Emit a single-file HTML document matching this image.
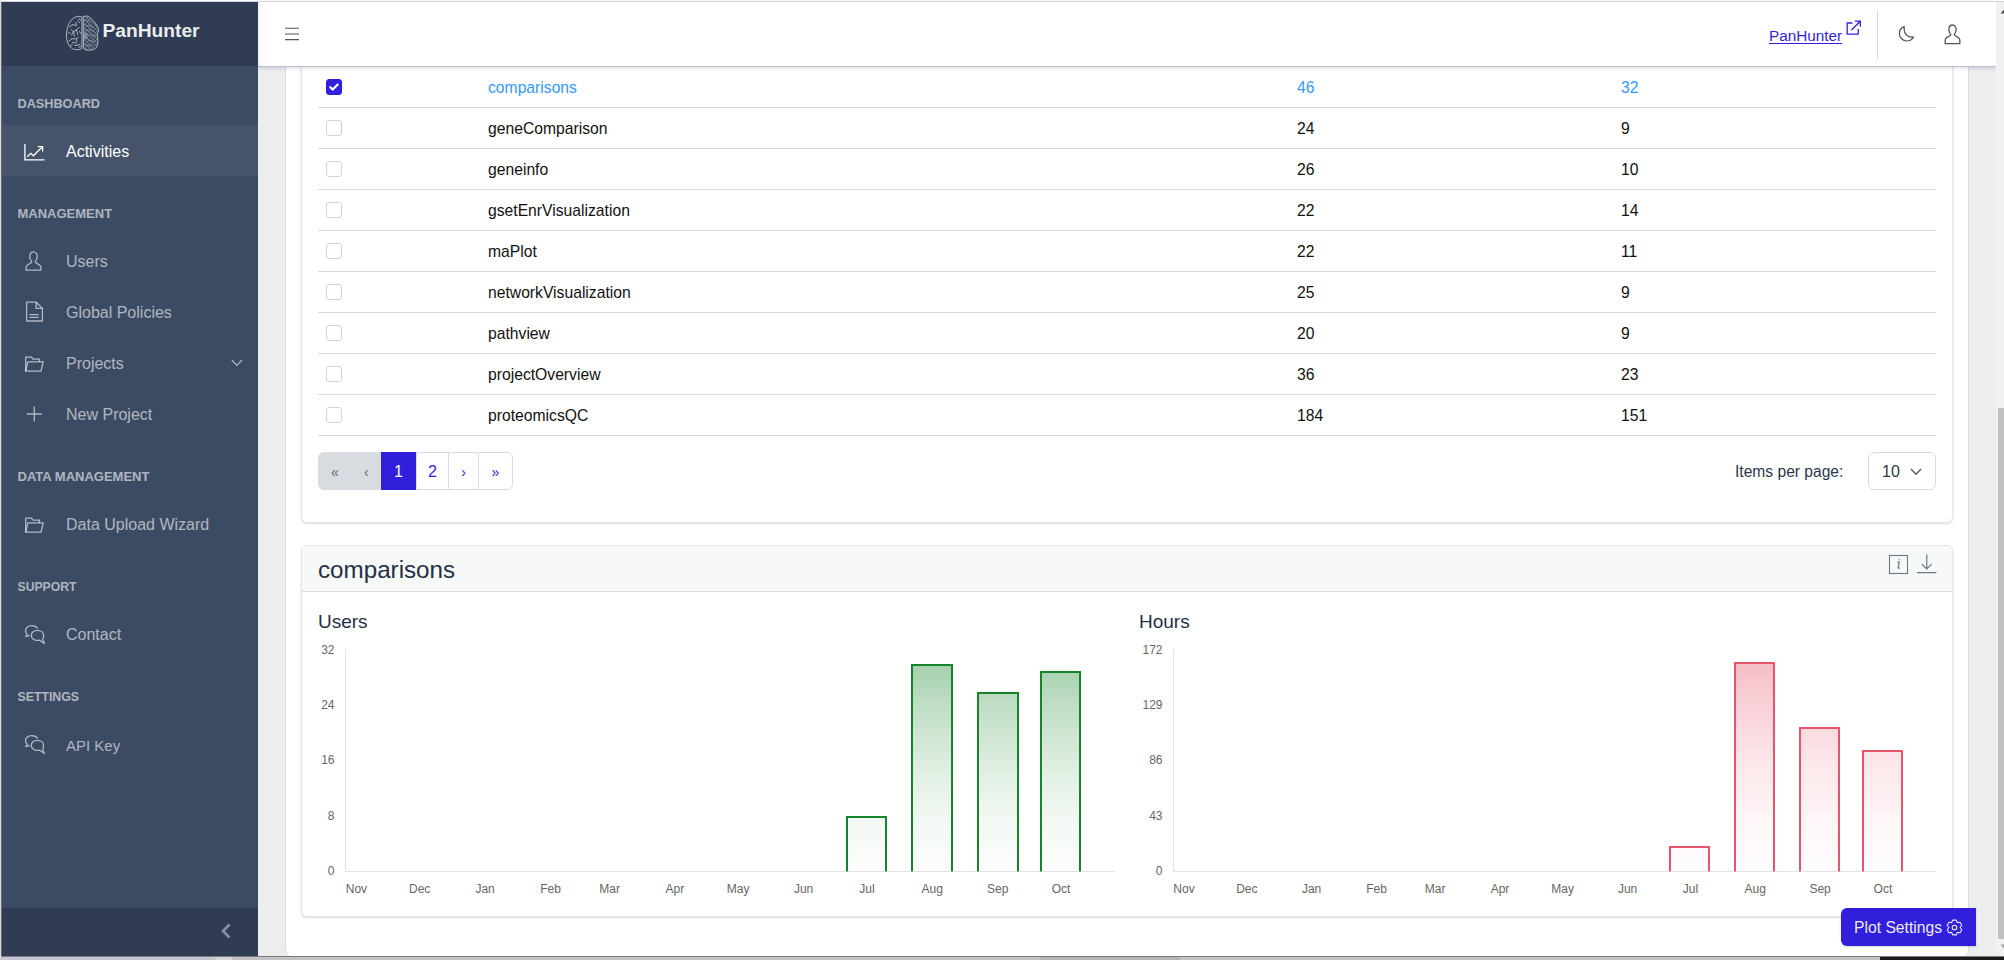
<!DOCTYPE html>
<html><head><meta charset="utf-8">
<style>
*{box-sizing:border-box;margin:0;padding:0}
html,body{width:2004px;height:960px;overflow:hidden;background:#fff;font-family:"Liberation Sans",sans-serif;}
body{position:relative}
.abs{position:absolute}
/* window frame artifacts */
#frameL1{left:0;top:0;width:1px;height:956px;background:#d9d9e6}
#frameL2{left:1px;top:2px;width:1px;height:954px;background:#6c6c70}
#frameT{left:1px;top:1px;width:2003px;height:1px;background:#d4d4d8}
#bottom{left:0;top:957px;width:2004px;height:3px;background:#c2c2c2}
#bottomR{left:1880px;top:956px;width:124px;height:4px;background:#1b1b1b}
/* sidebar */
#sidebar{left:2px;top:2px;width:256px;height:954px;background:#3c4b64;color:rgba(255,255,255,.6)}
#brand{left:0;top:0;width:256px;height:64px;background:#303c54}
#brandtxt{left:100.5px;top:18.3px;font-size:19.2px;font-weight:700;color:#ebedef;letter-spacing:0}
.navtitle{position:absolute;left:15.5px;font-size:13px;font-weight:700;color:rgba(255,255,255,.6);text-transform:uppercase;line-height:20px}
.navitem{position:absolute;left:0;width:256px;height:51px;color:rgba(255,255,255,.6);font-size:16px}
.navitem.active{background:rgba(255,255,255,.05);color:#fff}
.navitem .lbl{position:absolute;left:64px;top:16px;line-height:22px;white-space:nowrap}
.navitem svg{position:absolute;left:22px;top:15px}
#toggler{left:0;top:906px;width:256px;height:48px;background:#303c54}
/* body */
#bodybg{left:258px;top:2px;width:1738px;height:954px;background:#ebedef}
#container{left:285px;top:2px;width:1684px;height:954px;background:#fff;border-left:1px solid #d8dbe0;border-right:1px solid #d8dbe0;border-radius:0 0 6px 6px}
#header{left:258px;top:2px;width:1738px;height:65px;background:#fff;border-bottom:1px solid #b9c0ca;box-shadow:0 1px 4px rgba(60,75,100,.22)}
#hlink{left:1511px;top:25px;font-size:15.3px;color:#321fdb;text-decoration:underline;text-underline-offset:2px;line-height:18px}
#pag{left:318px;top:452px;width:195px;height:38px}
.pg{position:absolute;top:0;height:38px;border:1px solid #d8dbe0;margin-left:0;background:#fff;color:#321fdb;font-size:16px;line-height:38px;text-align:center}
.pg.sm{font-size:14px}
.pg.dis{background:#d8dbe0;color:#5f6b7c;font-size:14px}
.pg.act{background:#321fdb;border-color:#321fdb;color:#fff}
#ipp{left:1735px;top:463px;font-size:15.6px;color:#2c384a;line-height:18px}
#sel{left:1868px;top:452px;width:68px;height:38px;border:1px solid #d8dbe0;border-radius:6px;font-size:16px;color:#2c384a;line-height:18px}
#c2head{left:302px;top:546px;width:1650px;height:46px;background:#f7f9f8;border-bottom:1px solid #d8dbe0;border-radius:6px 6px 0 0}
#c2title{left:16px;top:11px;font-size:24.2px;color:#243044;line-height:26px;white-space:nowrap}
.ctitle{top:611px;font-size:19px;color:#243044;line-height:22px}
#plotbtn{left:1841px;top:908px;width:135px;height:38px;background:#321fdb;color:#ebeafc;border-radius:6px 0 0 6px;font-size:15.7px;line-height:40px;padding-left:13px;white-space:nowrap;box-shadow:0 1px 2px rgba(0,0,0,.15)}
/* scrollbar */
#sb{left:1996px;top:2px;width:8px;height:954px;background:#f1f1f1}
#sbthumb{left:1998px;top:408px;width:6px;height:531px;background:#c1c1c1}
/* cards */
.card{position:absolute;background:#fff;border:1px solid #e4e7ea;border-radius:6px;box-shadow:0 1px 2px rgba(60,75,100,.2)}
#card1{left:301px;top:10px;width:1652px;height:513px}
#card2{left:301px;top:545px;width:1652px;height:372px}
.row{position:absolute;left:318px;width:1618px;height:41px;border-bottom:1px solid #d8dbe0;font-size:15.7px;color:#111}
.row .cb{position:absolute;left:8px;top:12px;width:16px;height:16px;border:1px solid #d0d4da;border-radius:3px;background:#fff}
.row .nm{position:absolute;left:170px;top:12px;line-height:18px;white-space:nowrap}
.row .n1{position:absolute;left:979px;top:12px;line-height:18px}
.row .n2{position:absolute;left:1303px;top:12px;line-height:18px}
.row.sel{color:#3399ff}
.row.sel .cb{background:#321fdb;border-color:#321fdb}
</style></head>
<body>
<div class="abs" id="bodybg"></div>
<div class="abs" id="container"></div>
<div class="card" id="card1"></div>
<div class="card" id="card2"></div>
<div class="row sel" style="top:67px"><div class="cb"><svg width="16" height="16" viewBox="0 0 16 16" style="position:absolute;left:-1px;top:-1px" fill="none" stroke="#fff" stroke-width="2.2" stroke-linecap="round" stroke-linejoin="round"><path d="M4.3 8.2 L6.8 10.6 L11.7 5.6"/></svg></div><span class="nm">comparisons</span><span class="n1">46</span><span class="n2">32</span></div>
<div class="row" style="top:108px"><div class="cb"></div><span class="nm">geneComparison</span><span class="n1">24</span><span class="n2">9</span></div>
<div class="row" style="top:149px"><div class="cb"></div><span class="nm">geneinfo</span><span class="n1">26</span><span class="n2">10</span></div>
<div class="row" style="top:190px"><div class="cb"></div><span class="nm">gsetEnrVisualization</span><span class="n1">22</span><span class="n2">14</span></div>
<div class="row" style="top:231px"><div class="cb"></div><span class="nm">maPlot</span><span class="n1">22</span><span class="n2">11</span></div>
<div class="row" style="top:272px"><div class="cb"></div><span class="nm">networkVisualization</span><span class="n1">25</span><span class="n2">9</span></div>
<div class="row" style="top:313px"><div class="cb"></div><span class="nm">pathview</span><span class="n1">20</span><span class="n2">9</span></div>
<div class="row" style="top:354px"><div class="cb"></div><span class="nm">projectOverview</span><span class="n1">36</span><span class="n2">23</span></div>
<div class="row" style="top:395px"><div class="cb"></div><span class="nm">proteomicsQC</span><span class="n1">184</span><span class="n2">151</span></div>
<div class="abs" id="pag">
 <div class="pg dis" style="left:0;width:63px;border-radius:6px 0 0 6px"><span style="position:absolute;left:12px">&laquo;</span><span style="position:absolute;left:45px">&lsaquo;</span></div>
 <div class="pg act" style="left:63px;width:35px">1</div>
 <div class="pg" style="left:98px;width:33px">2</div>
 <div class="pg sm" style="left:130px;width:31px">&rsaquo;</div>
 <div class="pg sm" style="left:160px;width:35px;border-radius:0 6px 6px 0">&raquo;</div>
</div>
<span class="abs" id="ipp">Items per page:</span>
<div class="abs" id="sel"><span style="position:absolute;left:13px;top:10px">10</span><svg class="abs" style="left:41px;top:15px" width="12" height="8" viewBox="0 0 12 8" fill="none" stroke="#4f5d73" stroke-width="1.4"><path d="M1 1 L6 6.2 L11 1"/></svg></div>

<div class="abs" id="c2head"><span class="abs" id="c2title">comparisons</span>
 <svg class="abs" style="left:1585.5px;top:7.5px" width="21" height="21" viewBox="0 0 21 21" fill="none" stroke="#6b7785" stroke-width="1.1"><rect x="1.5" y="1.5" width="18" height="18"/><path d="M9.6 8.4 C10.3 7.6 11 7.5 11.2 8 L10.2 13.6 C10.1 14.3 10.6 14.6 11.8 13.7" stroke-width="1.2"/><circle cx="11.3" cy="5.6" r=".6" fill="#6b7785" stroke="none"/></svg>
 <svg class="abs" style="left:1613.5px;top:7.3px" width="21" height="21" viewBox="0 0 21 21" fill="none" stroke="#6b7785" stroke-width="1.2"><path d="M10.8 1.5 V16 M5.9 11.2 L10.8 16 L15.6 11.2 M1 19.7 H20.4"/></svg>
</div>
<span class="abs ctitle" style="left:318px">Users</span>
<span class="abs ctitle" style="left:1139px">Hours</span>
<svg class="abs" style="left:0;top:0" width="2004" height="960" font-family="Liberation Sans" font-size="12" fill="#666"><defs><linearGradient id="gg" gradientUnits="userSpaceOnUse" x1="0" y1="649" x2="0" y2="871"><stop offset="0" stop-color="rgb(19,130,37)" stop-opacity=".42"/><stop offset=".25" stop-color="rgb(19,130,37)" stop-opacity=".27"/><stop offset=".5" stop-color="rgb(19,130,37)" stop-opacity=".15"/><stop offset=".75" stop-color="rgb(19,130,37)" stop-opacity=".06"/><stop offset="1" stop-color="rgb(19,130,37)" stop-opacity=".01"/></linearGradient><linearGradient id="gr" gradientUnits="userSpaceOnUse" x1="0" y1="649" x2="0" y2="871"><stop offset="0" stop-color="rgb(232,84,108)" stop-opacity=".42"/><stop offset=".25" stop-color="rgb(232,84,108)" stop-opacity=".27"/><stop offset=".5" stop-color="rgb(232,84,108)" stop-opacity=".15"/><stop offset=".75" stop-color="rgb(232,84,108)" stop-opacity=".06"/><stop offset="1" stop-color="rgb(232,84,108)" stop-opacity=".01"/></linearGradient></defs><line x1="345.5" y1="649" x2="345.5" y2="871.5" stroke="#e3e3e3" stroke-width="1"/><line x1="345.0" y1="871.5" x2="1114.6" y2="871.5" stroke="#e3e3e3" stroke-width="1"/><text x="334.5" y="654.2" text-anchor="end">32</text><text x="334.5" y="709" text-anchor="end">24</text><text x="334.5" y="764" text-anchor="end">16</text><text x="334.5" y="820" text-anchor="end">8</text><text x="334.5" y="875" text-anchor="end">0</text><text x="356.4" y="893" text-anchor="middle">Nov</text><text x="419.7" y="893" text-anchor="middle">Dec</text><text x="485.1" y="893" text-anchor="middle">Jan</text><text x="550.5" y="893" text-anchor="middle">Feb</text><text x="609.6" y="893" text-anchor="middle">Mar</text><text x="674.9" y="893" text-anchor="middle">Apr</text><text x="738.2" y="893" text-anchor="middle">May</text><text x="803.6" y="893" text-anchor="middle">Jun</text><text x="866.9" y="893" text-anchor="middle">Jul</text><text x="932.3" y="893" text-anchor="middle">Aug</text><text x="997.7" y="893" text-anchor="middle">Sep</text><text x="1061.0" y="893" text-anchor="middle">Oct</text><path d="M847 871.5 V817 H886 V871.5" fill="url(#gg)" stroke="#16842a" stroke-width="2"/><path d="M912 871.5 V665 H952 V871.5" fill="url(#gg)" stroke="#16842a" stroke-width="2"/><path d="M978 871.5 V693 H1018 V871.5" fill="url(#gg)" stroke="#16842a" stroke-width="2"/><path d="M1041 871.5 V672 H1080 V871.5" fill="url(#gg)" stroke="#16842a" stroke-width="2"/><line x1="1173.5" y1="649" x2="1173.5" y2="871.5" stroke="#e3e3e3" stroke-width="1"/><line x1="1173.0" y1="871.5" x2="1935.7" y2="871.5" stroke="#e3e3e3" stroke-width="1"/><text x="1162.5" y="654.2" text-anchor="end">172</text><text x="1162.5" y="709" text-anchor="end">129</text><text x="1162.5" y="764" text-anchor="end">86</text><text x="1162.5" y="820" text-anchor="end">43</text><text x="1162.5" y="875" text-anchor="end">0</text><text x="1184.0" y="893" text-anchor="middle">Nov</text><text x="1246.8" y="893" text-anchor="middle">Dec</text><text x="1311.6" y="893" text-anchor="middle">Jan</text><text x="1376.5" y="893" text-anchor="middle">Feb</text><text x="1435.1" y="893" text-anchor="middle">Mar</text><text x="1500.0" y="893" text-anchor="middle">Apr</text><text x="1562.7" y="893" text-anchor="middle">May</text><text x="1627.6" y="893" text-anchor="middle">Jun</text><text x="1690.4" y="893" text-anchor="middle">Jul</text><text x="1755.3" y="893" text-anchor="middle">Aug</text><text x="1820.1" y="893" text-anchor="middle">Sep</text><text x="1882.9" y="893" text-anchor="middle">Oct</text><path d="M1670 871.5 V847 H1709 V871.5" fill="url(#gr)" stroke="#e8546c" stroke-width="2"/><path d="M1735 871.5 V663 H1774 V871.5" fill="url(#gr)" stroke="#e8546c" stroke-width="2"/><path d="M1800 871.5 V728 H1839 V871.5" fill="url(#gr)" stroke="#e8546c" stroke-width="2"/><path d="M1863 871.5 V751 H1902 V871.5" fill="url(#gr)" stroke="#e8546c" stroke-width="2"/></svg>
<div class="abs" id="plotbtn">Plot Settings <svg class="abs" style="left:105px;top:11px" width="17" height="17" viewBox="0 0 17 17" fill="none" stroke="#e6e6fa" stroke-width="1.1" stroke-linejoin="round"><path d="M6.79 1.09 L10.21 1.09 L11.30 3.65 L14.06 3.32 L15.77 6.28 L14.10 8.50 L15.77 10.72 L14.06 13.68 L11.30 13.35 L10.21 15.91 L6.79 15.91 L5.70 13.35 L2.94 13.68 L1.23 10.72 L2.90 8.50 L1.23 6.28 L2.94 3.32 L5.70 3.65 Z"/><circle cx="8.5" cy="8.5" r="2.3"/></svg></div>
<div class="abs" id="header">
  <div class="abs" style="left:0;top:0;width:6px;height:64px;background:linear-gradient(to right,rgba(0,0,40,.05),rgba(0,0,40,0))"></div>
  <svg class="abs" style="left:27px;top:24px" width="14" height="16" viewBox="0 0 14 16" fill="none" stroke="#4f5461" stroke-width="1.1"><path d="M0 2.3 H14 M0 8 H14 M0 13.6 H14"/></svg>
  <span class="abs" id="hlink">PanHunter</span>
  <svg class="abs" style="left:1588px;top:18px" width="16" height="16" viewBox="0 0 16 16" fill="none" stroke="#321fdb" stroke-width="1.3"><path d="M6.5 3 H1.2 V14.2 H12.2 V9"/><path d="M5.5 10 L14.2 1.3 M8.8 1.2 H14.3 V6.7"/></svg>
  <div class="abs" style="left:1619px;top:8px;width:1px;height:48px;background:#d8dbe0"></div>
  <svg class="abs" style="left:1640px;top:23px" width="18" height="18" viewBox="0 0 18 18" fill="none" stroke="#4f5461" stroke-width="1.2"><path d="M6.1 1.6 C3.3 2.7 1.4 5.4 1.4 8.5 C1.4 12.6 4.7 16 8.9 16 C11.7 16 14.2 14.4 15.5 12 C14.9 12.1 14.4 12.2 13.8 12.2 C9.6 12.2 6.2 8.8 6.2 4.6 C6.2 3.5 6.4 2.5 6.1 1.6 Z"/></svg>
  <svg class="abs" style="left:1686px;top:22px" width="17" height="21" viewBox="0 0 17 21" fill="none" stroke="#4f5461" stroke-width="1.3"><path d="M8.5 1 C6.3 1 4.9 2.9 4.9 5.6 C4.9 7.6 5.6 9.1 6.6 10.3 L6.6 11.2 L2.3 13.9 C1.5 14.5 1.2 15.3 1.2 16.3 L1.2 19.7 L15.8 19.7 L15.8 16.3 C15.8 15.3 15.5 14.5 14.7 13.9 L10.4 11.2 L10.4 10.3 C11.4 9.1 12.1 7.6 12.1 5.6 C12.1 2.9 10.7 1 8.5 1 Z"/></svg>
</div>
<div class="abs" id="sidebar">
  <div class="abs" id="brand"><span class="abs" id="brandtxt">PanHunter</span><svg class="abs" style="left:62px;top:11px" width="38" height="40" viewBox="64 13 38 40" fill="none" stroke="#cfd3dc" stroke-width=".8" stroke-linecap="round" stroke-linejoin="round">
<defs><clipPath id="rh"><path d="M83.6 16.4 C84.8 16 86 15.9 87.3 16.1 C88.6 16.6 89.9 17.4 91 18.4 C92.4 19.6 93.8 21 94.8 22.6 C95.7 23.5 96.4 24.5 96.9 25.5 C97.6 26.8 98.3 28.2 98.6 29.7 C98.7 30.4 98.5 31.1 98.2 31.75 C97.7 32.7 97.3 33.7 97.3 34.7 C97.5 36 97.8 37.4 97.75 38.8 C97.9 40.5 98 42.2 97.75 43.8 C97.5 45 97.1 46.2 96.5 47.2 C95.6 48.4 94.5 49.2 93.2 49.7 C91.3 50.3 89.3 50.4 87.3 50.1 C86.1 49.8 85 49.4 84 48.8 L83.6 48 Z"/></clipPath></defs>
<path d="M81.6 16.9 C80 15.9 76.5 16.2 74.4 17.6 C72.8 18.6 71.2 19.6 70.6 21.2 C69.6 22.3 68.6 23.4 68.6 24.9 C67.6 26.4 67.3 28 67.3 29.7 C66.6 31.4 66.4 33.2 66.5 35 C66.3 36.6 66.6 38.2 66.9 39.7 C67.3 41.4 67.8 43.2 68.6 44.7 C69.4 46 70.3 47.2 71.5 48 C72.8 49.1 74.2 49.6 75.7 49.7 C77.4 49.9 79.2 49.7 80.7 49.2 L81.6 48.6 Z"/>
<path d="M83.6 16.4 C84.8 16 86 15.9 87.3 16.1 C88.6 16.6 89.9 17.4 91 18.4 C92.4 19.6 93.8 21 94.8 22.6 C95.7 23.5 96.4 24.5 96.9 25.5 C97.6 26.8 98.3 28.2 98.6 29.7 C98.7 30.4 98.5 31.1 98.2 31.75 C97.7 32.7 97.3 33.7 97.3 34.7 C97.5 36 97.8 37.4 97.75 38.8 C97.9 40.5 98 42.2 97.75 43.8 C97.5 45 97.1 46.2 96.5 47.2 C95.6 48.4 94.5 49.2 93.2 49.7 C91.3 50.3 89.3 50.4 87.3 50.1 C86.1 49.8 85 49.4 84 48.8 L83.6 48 Z"/>
<path d="M72.3 24.7 L76.5 25.5 L75.7 22.6 M77.75 20.5 L79.4 23 M73.6 31.75 L71 29.25 M73.6 31.75 L76.5 29.7 L79.4 27.6 M73.6 31.75 L71.5 35 M73.6 31.75 L74.4 36.3 M76.5 29.7 L77.75 34.7 M71.9 38.8 L76.5 38.8 L78.5 37 M72.3 42.2 L76.5 43 M74.8 45.5 L79.8 44.7 M69.5 27 L72.3 24.7 M76.5 38.8 L76.8 41.5 M69 41 L71.9 38.8 M79.5 31.5 L80.8 33.5 M78.8 47.2 L80.6 46.6 M70 46 L72.3 44.5 M79 18.5 L80.5 20.5 M68.2 33 L70.2 32.8" stroke-width=".75"/>
<g clip-path="url(#rh)" stroke-width=".55" opacity=".7"><path d="M80 0 L100 17 M80 4 L100 21 M80 8 L100 25 M80 12 L100 29 M80 16 L100 33 M80 20 L100 37 M80 24 L100 41 M80 28 L100 45 M80 32 L100 49 M80 36 L100 53 M80 40 L100 57 M80 44 L100 61 M80 48 L100 65 M100 -0.5 L80 22 M100 3.5 L80 26 M100 7.5 L80 30 M100 11.5 L80 34 M100 15.5 L80 38 M100 19.5 L80 42 M100 23.5 L80 46 M100 27.5 L80 50 M100 31.5 L80 54 M100 35.5 L80 58 M100 39.5 L80 62 M100 43.5 L80 66 M100 47.5 L80 70 M100 51.5 L80 74"/><path d="M84.5 20 C86.5 21 88 19.5 90 21.5 M84.5 25 C87 26.5 89.5 24.5 92.5 27 M85 30 L88 31 L90 29.5 L94 31.5 M88 40 C90 41.5 92 40 95 42 M86 44.5 L89 46 L92 45 M89 34 L93 36 L96 35" stroke-width=".7"/></g>
<ellipse cx="85.5" cy="36" rx="2.2" ry="3.5" fill="#b8bdc8" stroke="none" opacity=".5"/>
</svg></div>
<div class="navtitle" style="font-size:12.7px;top:92px">Dashboard</div>
<div class="navitem active" style="top:123px"><span class="lbl">Activities</span><svg width="22" height="18" viewBox="0 0 22 18" style="left:22px;top:19px" fill="none" stroke="currentColor" stroke-width="1.3"><path d="M0.9 0 V15.9 H20.5"/><path d="M3.2 12.8 L6.8 9.3 L9.3 11.8 L18.4 2.8"/><path d="M13.8 2.6 H18.6 V7.4"/></svg></div>
<div class="navtitle" style="top:202px">Management</div>
<div class="navitem" style="top:233px"><span class="lbl">Users</span><svg width="17" height="21" viewBox="0 0 17 21" style="left:23px;top:16px" fill="none" stroke="currentColor" stroke-width="1.3"><path d="M8.5 0.8 C6.2 0.8 4.8 2.8 4.8 5.6 C4.8 7.8 5.6 9.4 6.6 10.6 L6.6 11.4 L2.2 14.2 C1.4 14.8 1.1 15.6 1.1 16.6 L1.1 19.2 L15.9 19.2 L15.9 16.6 C15.9 15.6 15.6 14.8 14.8 14.2 L10.4 11.4 L10.4 10.6 C11.4 9.4 12.2 7.8 12.2 5.6 C12.2 2.8 10.8 0.8 8.5 0.8 Z"/></svg></div>
<div class="navitem" style="top:284px"><span class="lbl">Global Policies</span><svg width="19" height="21" viewBox="0 0 19 21" style="left:23px;top:15px" fill="none" stroke="currentColor" stroke-width="1.3"><path d="M1.6 1.2 H11.2 L17.4 7.4 V20 H1.6 Z"/><path d="M11.2 1.2 V7.4 H17.4"/><path d="M4.4 13.7 H13.6 M4.4 16.4 H13.6"/></svg></div>
<div class="navitem" style="top:335px"><span class="lbl">Projects</span><svg width="21" height="17" viewBox="0 0 21 17" style="left:20.5px;top:18.5px" fill="none" stroke="currentColor" stroke-width="1.3"><path d="M2.7 15.2 V1.1 H8.6 L10 3.2 H16.4 V5.8"/><path d="M2.7 15.2 L4.8 5.8 H20.2 L18 15.2 Z"/></svg><svg width="12" height="8" viewBox="0 0 12 8" style="left:229px;top:22px" fill="none" stroke="currentColor" stroke-width="1.2"><path d="M0.8 1 L5.9 6.4 L11 1"/></svg></div>
<div class="navitem" style="top:386px"><span class="lbl">New Project</span><svg width="17" height="17" viewBox="0 0 17 17" style="left:23.5px;top:17.5px" fill="none" stroke="currentColor" stroke-width="1.3"><path d="M8.3 0.5 V15.5 M0.8 8 H15.8"/></svg></div>
<div class="navtitle" style="top:465px">Data Management</div>
<div class="navitem" style="top:496px"><span class="lbl">Data Upload Wizard</span><svg width="21" height="17" viewBox="0 0 21 17" style="left:20.5px;top:18.5px" fill="none" stroke="currentColor" stroke-width="1.3"><path d="M2.7 15.2 V1.1 H8.6 L10 3.2 H16.4 V5.8"/><path d="M2.7 15.2 L4.8 5.8 H20.2 L18 15.2 Z"/></svg></div>
<div class="navtitle" style="font-size:12.2px;top:575px">Support</div>
<div class="navitem" style="top:606px"><span class="lbl">Contact</span><svg width="22" height="21" viewBox="0 0 22 21" style="left:20.5px;top:16px" fill="none" stroke="currentColor" stroke-width="1.3"><path d="M14.6 4.5 C13.5 2.6 11.3 1.6 8.8 1.6 C5.1 1.6 2.5 3.9 2.5 6.8 C2.5 8.2 3.1 9.4 4.1 10.3 L2.8 12.4 C4.4 12.6 5.8 11.9 6.8 11.4"/><path d="M14.4 6.4 C10.9 6.4 8.3 8.6 8.3 11.4 C8.3 14.2 10.9 16.4 14.4 16.4 C15.1 16.4 15.8 16.3 16.4 16.1 L21.3 19.2 L19.5 15.4 C20.3 14.4 20.6 13 20.6 11.4 C20.6 8.6 18 6.4 14.4 6.4 Z"/></svg></div>
<div class="navtitle" style="font-size:12.3px;top:685px">Settings</div>
<div class="navitem" style="top:716px"><span class="lbl" style="font-size:15px;top:16.5px">API Key</span><svg width="22" height="21" viewBox="0 0 22 21" style="left:20.5px;top:16px" fill="none" stroke="currentColor" stroke-width="1.3"><path d="M14.6 4.5 C13.5 2.6 11.3 1.6 8.8 1.6 C5.1 1.6 2.5 3.9 2.5 6.8 C2.5 8.2 3.1 9.4 4.1 10.3 L2.8 12.4 C4.4 12.6 5.8 11.9 6.8 11.4"/><path d="M14.4 6.4 C10.9 6.4 8.3 8.6 8.3 11.4 C8.3 14.2 10.9 16.4 14.4 16.4 C15.1 16.4 15.8 16.3 16.4 16.1 L21.3 19.2 L19.5 15.4 C20.3 14.4 20.6 13 20.6 11.4 C20.6 8.6 18 6.4 14.4 6.4 Z"/></svg></div>
  <div class="abs" id="toggler"><svg class="abs" style="left:218px;top:15px" width="12" height="16" viewBox="0 0 12 16" fill="none" stroke="#8a93a2" stroke-width="2.6"><path d="M9.5 1.5 L3 8 L9.5 14.5"/></svg></div>
</div>
<div class="abs" id="sb"></div>
<div class="abs" id="sbthumb"></div>
<div class="abs" id="frameL1"></div>
<div class="abs" id="frameL2"></div>
<div class="abs" id="frameT"></div>
<div class="abs" id="bottom"></div>
<div class="abs" id="bottomR"></div>
<svg class="abs" style="left:2000px;top:9px" width="4" height="5" viewBox="0 0 4 5"><path d="M4 0.5 L0.5 4.5 H4 Z" fill="#505050"/></svg>
<svg class="abs" style="left:2000px;top:944px" width="4" height="5" viewBox="0 0 4 5"><path d="M0.5 0.5 H4 V4.5 Z" fill="#a0a0a0"/></svg>
<div class="abs" style="left:0;top:957px;width:215px;height:3px;background:#c6c6d2"></div>
<div class="abs" style="left:215px;top:957px;width:17px;height:3px;background:#d6d6d6"></div>
<div class="abs" style="left:1px;top:956px;width:2003px;height:1px;background:#7a7a80"></div>
<div class="abs" style="left:1040px;top:957px;width:140px;height:3px;background:#b4b4b4"></div>

</body></html>
